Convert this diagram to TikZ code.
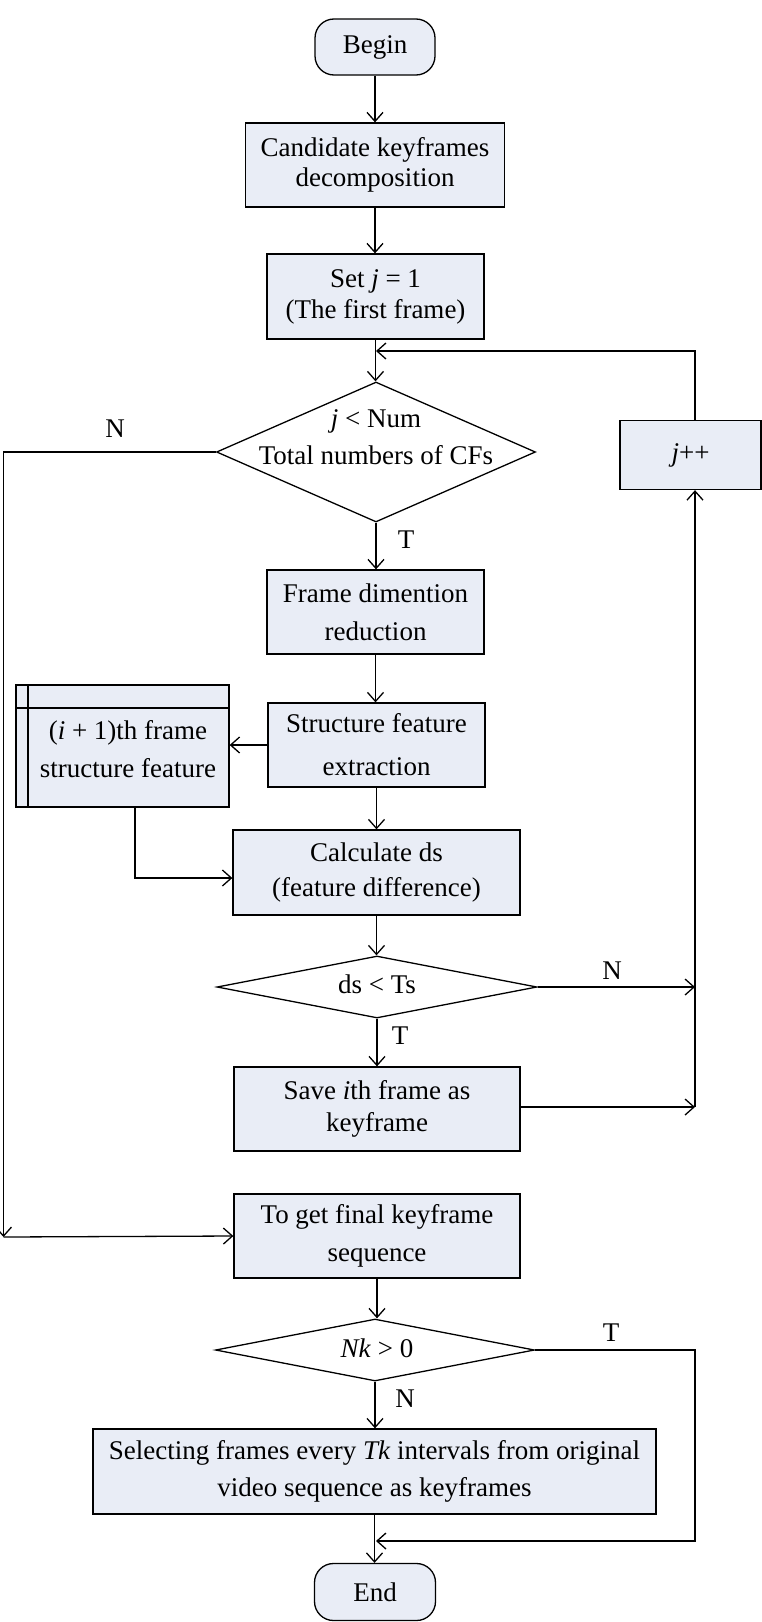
\documentclass[tikz,border=0pt]{standalone}
\usepackage{fontspec}
\setmainfont{Liberation Serif}
\usetikzlibrary{arrows.meta,shapes.geometric}
\definecolor{boxfill}{RGB}{233,237,246}
\tikzset{
  x=1pt,y=-1pt,
  every node/.style={font=\fontsize{27}{31}\selectfont},
  ls/.style={font=\fontsize{27}{#1}\selectfont},
  base/.style={draw=black,line width=1.3pt,fill=boxfill,inner sep=0pt,align=center},
  procbox/.style={base,rectangle,minimum width=#1},
  termbox/.style={base,rectangle,rounded corners=19pt,minimum width=120pt,minimum height=56pt},
  decide/.style={draw=black,line width=1.3pt,fill=white,diamond,inner sep=0pt,minimum width=#1},
  arr/.style={line width=1.3pt,-{Straight Barb[length=9pt,width=16pt,line width=1.3pt]}},
  conn/.style={line width=1.3pt},
  lbl/.style={inner sep=0pt}
}
\begin{document}
\begin{tikzpicture}
\useasboundingbox (0,0) rectangle (762,1622);
\node[termbox] (begin) at (375,47) {Begin};
\node[procbox=259pt,minimum height=84pt,ls=30] (cand) at (375,165) {Candidate keyframes\\decomposition};
\node[procbox=217pt,minimum height=85pt,ls=31] (setj) at (375.5,296.5) {Set \textit{j} = 1\\(The first frame)};
\node[decide=319pt,minimum height=140pt] (d1) at (376,452) {};
\node[lbl,align=center,ls=37] (d1t) at (376,437) {\textit{j} < Num\\Total numbers of CFs};
\node[procbox=141pt,minimum height=69pt] (jpp) at (690.5,455) {\textit{j}++};
\node[procbox=217pt,minimum height=84pt,ls=38] (frame) at (375.5,612) {Frame dimention\\reduction};
\node[procbox=217pt,minimum height=84pt,ls=43] (struct) at (376.5,745) {Structure feature\\extraction};
\node[procbox=213pt,minimum height=122pt] (ifr) at (122.5,746) {};
\draw[conn] (28,685) -- (28,807);
\draw[conn] (16,708) -- (229,708);
\node[lbl,align=center,ls=38] (ifrt) at (128,749) {(\textit{i} + 1)th frame\\structure feature};
\node[procbox=287pt,minimum height=85pt,ls=35] (calc) at (376.5,872.5) {Calculate ds\\(feature difference)};
\node[decide=320pt,minimum height=62pt] (d2) at (377,987) {};
\node[lbl] (d2t) at (377,984) {ds < Ts};
\node[procbox=286pt,minimum height=84pt,ls=32] (save) at (377,1109) {Save \textit{i}th frame as\\keyframe};
\node[procbox=286pt,minimum height=84pt,ls=38] (final) at (377,1236) {To get final keyframe\\sequence};
\node[decide=319pt,minimum height=62pt] (d3) at (375,1350) {};
\node[lbl] (d3t) at (377,1348) {\textit{Nk} > 0};
\node[procbox=563pt,minimum height=85pt,ls=37] (select) at (374.5,1471.5) {Selecting frames every \textit{Tk} intervals from original\\video sequence as keyframes};
\node[termbox,minimum width=121pt,minimum height=57pt] (end) at (375,1592) {End};
% labels
\node[lbl] (lN1) at (115,429) {N};
\node[lbl] (lT1) at (406,540) {T};
\node[lbl] (lN2) at (612,971) {N};
\node[lbl] (lT2) at (400,1036) {T};
\node[lbl] (lT3) at (611,1333) {T};
\node[lbl] (lN3) at (405,1399) {N};
% coordinates
\coordinate (m1) at (376,351);
\coordinate (lc) at (3.5,1237);
\coordinate (r2) at (695,1107);
\coordinate (e1) at (376,1541);
% main arrows
\draw[arr] (begin.south) -- (begin.south |- cand.north);
\draw[arr] (cand.south) -- (cand.south |- setj.north);
\draw[arr] (setj.south) -- (setj.south |- d1.north);
\draw[arr] (d1.south) -- (d1.south |- frame.north);
\draw[arr] (frame.south) -- (frame.south |- struct.north);
\draw[arr] (struct.south) -- (struct.south |- calc.north);
\draw[arr] (calc.south) -- (calc.south |- d2.north);
\draw[arr] (d2.south) -- (d2.south |- save.north);
\draw[arr] (final.south) -- (final.south |- d3.north);
\draw[arr] (d3.south) -- (d3.south |- select.north);
\draw[arr] (select.south) -- (select.south |- end.north);
% side arrows
\draw[arr] (struct.west) -- (ifr.east |- struct.west);
\draw[arr] ([xshift=12.5pt]ifr.south) |- ([yshift=-5.5pt]calc.west);
\draw[arr] (d1.west) -- (lc |- d1.west) -- (lc);
\draw[arr] (lc) -- (final.west);
\draw[arr] ([xshift=4.5pt]jpp.north) |- (m1);
\draw[arr] (r2) -- ([xshift=4.5pt]jpp.south);
\draw[arr] (d2.east) -- (d2.east -| r2);
\draw[arr] ([yshift=2pt]save.east) -- ([yshift=2pt]save.east -| r2);
\draw[arr] (d3.east) -- (d3.east -| r2) |- (e1);
\end{tikzpicture}
\end{document}
